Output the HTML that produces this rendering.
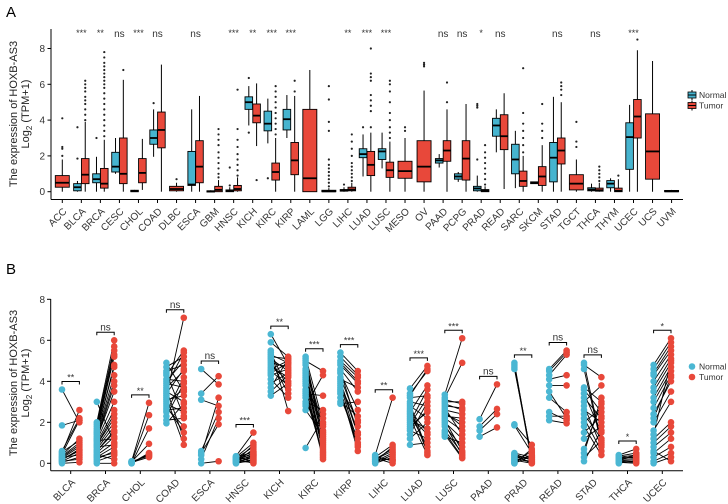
<!DOCTYPE html>
<html><head><meta charset="utf-8">
<style>
html,body{margin:0;padding:0;background:#fff;}
svg{display:block;font-family:"Liberation Sans",Arial,sans-serif;}
</style></head>
<body>
<svg id="chart" width="728" height="504" viewBox="0 0 728 504" xmlns="http://www.w3.org/2000/svg">
<text x="6" y="17" font-size="15">A</text>
<text x="6" y="274" font-size="15">B</text>
<g id="pa"></g>
<g id="pb"></g>
</svg>
<script>
// ---------- Panel A data ----------
const catsA = ["ACC","BLCA","BRCA","CESC","CHOL","COAD","DLBC","ESCA","GBM","HNSC","KICH","KIRC","KIRP","LAML","LGG","LIHC","LUAD","LUSC","MESO","OV","PAAD","PCPG","PRAD","READ","SARC","SKCM","STAD","TGCT","THCA","THYM","UCEC","UCS","UVM"];
// [lowWhisker, q1, median, q3, highWhisker]
const normalStatsA = [null,[0,0.05,0.25,0.45,0.6],[0,0.5,0.7,1.0,1.95],[1.0,1.1,1.4,2.2,3.0],[0,0,0.03,0.08,0.1],[1.95,2.65,3.0,3.45,4.6],null,[0,0.35,0.4,2.25,4.6],[0,0,0.02,0.05,0.08],[0,0,0.05,0.1,0.25],[3.7,4.6,5.0,5.3,5.9],[2.7,3.4,3.8,4.5,5.2],[3.0,3.45,4.05,4.6,5.4],null,null,[0,0.03,0.08,0.12,0.25],[0.85,1.9,2.1,2.4,3.2],[1.3,1.8,2.25,2.4,3.3],null,null,[1.35,1.6,1.75,1.85,2.1],[0.55,0.7,0.85,1.0,1.1],[0,0.05,0.18,0.3,0.9],[2.2,3.1,3.7,4.1,4.6],[0.2,1.0,1.8,2.65,3.4],[0.45,0.45,0.5,0.55,0.55],[0,0.55,1.9,2.75,5.3],null,[0,0.05,0.12,0.22,0.45],[0,0.22,0.45,0.62,0.75],[0,1.25,3.05,3.85,4.85],null,null];
const tumorStatsA = [[0,0.25,0.5,0.9,1.8],[0,0.45,0.95,1.85,3.9],[0,0.2,0.45,1.3,2.9],[0,0.45,1.0,3.0,6.25],[0.1,0.5,1.05,1.85,2.95],[0,2.45,3.45,4.45,7.1],[0,0.05,0.15,0.3,0.5],[0,0.5,1.4,2.85,5.35],[0,0,0.1,0.3,0.65],[0,0.05,0.15,0.35,0.8],[2.55,3.85,4.25,4.9,6.05],[0,0.65,1.1,1.6,3.0],[0,0.95,1.75,2.75,5.35],[0,0,0.75,4.6,6.8],[0,0,0.02,0.08,0.2],[0,0.05,0.12,0.25,0.5],[0,0.9,1.5,2.25,3.3],[0,0.8,1.2,1.65,2.8],[0,0.75,1.15,1.7,3.0],[0,0.55,1.4,2.85,5.65],[0,1.7,2.3,2.85,4.6],[0,0.65,1.85,2.85,4.9],[0,0,0.05,0.12,0.3],[0.15,2.35,3.1,4.3,5.5],[0,0.3,0.6,1.15,2.0],[0,0.35,0.85,1.4,2.6],[0,1.55,2.3,3.0,5.0],[0,0.1,0.45,0.95,1.8],[0,0.03,0.08,0.2,0.5],[0,0,0.05,0.2,0.7],[0,3.0,4.2,5.15,7.9],[0,0.7,2.25,4.35,7.3],[0,0,0.02,0.07,0.1]];
const normalOutA = [[],[1.85,3.6],[3.0],[],[],[4.95],[],[],[],[0.35,1.35],[3.3,6.35],[0.75],[],[],[],[0.4],[3.6],[],[],[],[],[],[1.8,4.7,4.8,4.9],[],[],[],[],[],[],[],[],[],[]];
const tumorOutA = [[2.0,2.4,2.5,4.1],[4.0,4.3,4.6,4.9,5.1,5.3,5.6,5.8,6.0,6.2],[3.1,3.4,3.7,4.0,4.3,4.6,4.9,5.2,5.5,5.8,6.0,6.2,6.4,6.6,6.8,7.0,7.2,7.5,7.8],[6.8],[],[],[0.7],[],[0.8,1.0,1.3,1.6,1.9,2.2,2.6,2.9,3.2,3.5],[0.9,1.2,1.5,1.8,2.1,2.5,2.9,3.5,5.7],[0.65],[3.2,3.5,3.8,4.1,4.4,4.7,5.0,5.3,5.6,5.9],[5.6,6.2],[],[0.3,0.5,0.7,0.9,1.1,1.3,1.5,1.8,3.4,3.9,5.15,5.9],[0.6,0.8,1.0,1.2,1.4,1.6,2.0,2.4,2.8,3.2],[3.6,4.5,4.8,5.1,5.4,6.2,6.4,6.6,8.0],[3.0,3.3,3.6,4.0,4.4,5.0,5.6,6.0,6.2],[3.4,3.6],[7.0,7.1,7.2],[5.0,6.1],[],[0.4,0.7,1.0,1.3,1.6,1.9,2.2,2.6],[],[2.2,2.6,3.0,3.4,3.8,4.4,6.9],[3.0,3.4,3.8,4.9],[5.4,5.7,5.9,6.1],[2.5,2.8,3.9],[0.6,0.8,1.0,1.2,1.4],[0.9],[8.5],[],[]];
const sigA = ["","***","**","ns","***","ns","","ns","","***","**","***","***","","","**","***","***","","","ns","ns","*","ns","","","ns","","ns","","***","",""];
const yTicksA = [0,2,4,6,8];

// ---------- Panel B data ----------
const catsB = ["BLCA","BRCA","CHOL","COAD","ESCA","HNSC","KICH","KIRC","KIRP","LIHC","LUAD","LUSC","PAAD","PRAD","READ","STAD","THCA","UCEC"];
const normalB = [
[3.6,1.85,0.6,0.5,0.4,0.3,0.2,0.1,0.05,0.0,0.35,0.45,0.15,0.25,0.55,0.3,0.1,0.2],
[3.0,2.0,1.9,1.8,1.6,1.5,1.4,1.3,1.2,1.1,1.0,0.9,0.8,0.7,0.6,0.5,0.4,0.3,0.2,0.1,0.0,1.7,1.5,1.2,0.9,0.6,0.3,0.8,1.1,0.4],
[0.1,0.05,0,0.08,0.02,0.06,0.1,0,0.04],
[4.9,4.7,4.5,4.3,4.1,3.9,3.7,3.5,3.3,3.1,2.9,2.7,2.5,2.3,2.1,1.95,3.6,3.2,2.8,4.0,3.4,3.0,2.6,4.4,3.8],
[4.6,3.4,3.1,0.6,0.4,0.2,0,0.5],
[0.35,0.3,0.25,0.2,0.15,0.1,0.05,0,0.3,0.2,0.1,0,0.25,0.15,0.05,0.1,0.2,0.3],
[6.3,5.9,5.5,5.3,5.2,5.1,5.0,4.9,4.8,4.7,4.6,4.5,4.3,4.1,3.9,3.7,3.5,3.3,5.4,4.4],
[5.2,5.0,4.8,4.6,4.4,4.2,4.0,3.8,3.6,3.4,3.2,3.0,2.8,2.6,0.75,4.9,4.1,3.5,2.9,4.5,3.9,3.3,5.1,4.3],
[5.4,5.2,5.0,4.8,4.6,4.4,4.2,4.0,3.8,3.6,3.4,3.2,3.0,2.9,4.9,4.5,3.9,3.5,4.1,3.7],
[0.4,0.3,0.2,0.1,0,0.35,0.25,0.15,0.05,0.2,0.1,0.3],
[3.65,3.4,3.2,3.0,2.8,2.6,2.4,2.2,2.0,1.8,1.6,1.4,1.2,0.9,3.3,2.9,2.5,2.1,1.7,2.7,2.3,1.9],
[3.35,3.2,3.0,2.8,2.6,2.4,2.2,2.0,1.8,1.6,1.4,1.3,3.1,2.7,2.3,1.9,2.5,2.1,2.9,1.5],
[2.15,1.8,1.6,1.3],
[4.9,4.8,4.7,4.6,1.9,1.85,0.5,0.4,0.3,0.2,0.1,0.05,0,0.45,0.35,0.25,0.15,0],
[4.6,4.5,4.3,4.1,3.8,3.5,3.2,2.5,2.3,2.1],
[4.9,4.8,4.6,3.7,3.6,3.4,3.0,2.6,2.4,2.2,2.0,1.8,1.5,1.2,0.7,0.5,0.3,0.1,2.8,3.2],
[0.4,0.35,0.3,0.25,0.2,0.15,0.1,0.05,0,0.3,0.2,0.1],
[4.8,4.6,4.4,4.3,4.0,3.7,3.5,3.2,3.0,2.7,2.4,2.0,1.6,1.2,1.0,0.8,0.5,0.3,0.1,0,0.6,1.4,2.2]];
const tumorB = [
[2.0,2.1,2.2,2.6,1.2,0.9,0.6,0.5,0.3,0.05,1.0,2.1,0.7,0.8,1.1,0.4,0.2,0.65],
[1.0,6.0,5.7,5.5,5.2,4.8,4.3,4.0,3.5,3.0,2.6,2.2,2.0,1.8,1.5,1.3,1.0,0.8,0.6,0.4,0.0,5.3,4.7,3.8,2.4,1.6,0.5,0.9,1.2,0.2],
[2.95,2.35,1.7,0.95,0.5,0.4,0.35,0.45,0.3],
[3.5,5.2,4.8,5.5,4.0,3.7,4.5,3.0,7.1,3.3,2.5,1.8,4.2,3.9,2.2,2.9,1.2,0.9,1.5,5.0,4.6,3.6,2.7,2.3,5.4],
[3.85,4.25,2.8,2.5,3.2,2.2,0.1,1.9],
[1.5,1.0,0.8,0.6,0.5,0.4,0.3,0.2,0.1,0,0.05,0.15,0.25,0.35,0.7,0.9,0.45,0.55],
[4.8,5.2,2.55,4.9,5.1,4.5,3.4,4.7,4.0,4.2,5.0,3.8,4.6,3.2,4.4,5.1,4.3,3.9,3.6,4.9],
[2.0,4.5,1.8,1.5,1.2,0.9,0.6,0.3,0.2,3.3,1.0,2.6,4.3,1.4,2.2,1.1,0.7,2.4,1.6,0.5,1.9,0.4,1.3,0.8],
[4.5,4.3,4.2,3.9,3.5,2.6,2.0,1.5,1.0,0.6,0.8,1.2,2.3,3.0,4.0,1.8,1.4,0.9,3.7,2.1],
[3.2,0.9,0.7,0.5,0.3,0.1,0,0.2,0.4,0.6,0.8,0.15],
[4.75,4.5,3.3,2.8,2.2,1.5,0.8,0.4,3.6,2.5,1.2,3.0,2.0,1.0,4.6,0.6,3.8,1.7,2.6,0.5,1.4,3.2],
[6.1,4.9,3.0,2.7,2.4,2.0,1.6,1.2,0.8,0.5,0.25,1.0,2.9,1.4,2.2,0.4,1.8,0.6,2.6,0.3],
[3.85,2.65,2.4,1.75],
[0.1,0.2,0.05,0.3,0.9,0.5,0.3,0,0.2,0.1,0.4,0.6,0.7,0.15,0.25,0.05,0,0.35],
[5.5,5.4,5.3,4.3,3.8,2.2,2.5,2.1,2.3,1.95],
[1.0,4.2,0.9,3.0,2.5,1.5,3.8,2.0,1.2,0.6,2.7,0.4,2.3,1.8,2.9,3.2,1.1,1.6,0.8,2.2],
[0.7,0.5,0.4,0.3,0.2,0.1,0.05,0,0.15,0.25,0.35,0.45],
[6.1,5.9,5.7,5.5,5.3,5.1,4.9,4.7,4.5,4.3,4.0,3.5,3.0,2.0,1.8,1.5,1.2,0.8,0.5,0.3,0.1,5.0,4.2]];
const sigB = ["**","ns","**","ns","ns","***","**","***","***","**","***","***","ns","**","ns","ns","*","*"];
const yTicksB = [0,2,4,6,8];

const NS = "http://www.w3.org/2000/svg";
const NCOL = "#46B4CF", TCOL = "#E8483A";
function mk(parent, tag, attrs, text){
  const e = document.createElementNS(NS, tag);
  for (const k in attrs) e.setAttribute(k, attrs[k]);
  if (text !== undefined) e.textContent = text;
  parent.appendChild(e);
  return e;
}

// ---------- Panel A ----------
const pa = document.getElementById("pa");
const xA = i => 62.3 + 19.04 * i;
const yA = v => 191.7 - 17.9 * v;
const axA = mk(pa, "line", {x1:51, y1:29, x2:51, y2:199.5, stroke:"#000", "stroke-width":1});


const bxA = mk(pa, "line", {x1:51, y1:199.5, x2:683, y2:199.5, stroke:"#000", "stroke-width":1});


yTicksA.forEach(t => {
  mk(pa, "line", {x1:47.5, y1:yA(t), x2:51, y2:yA(t), stroke:"#000"});
  const lb = mk(pa, "text", {x:45, y:yA(t)+3.5, "font-size":10, "text-anchor":"end", fill:"#333"}, String(t));
  
  
});
function boxA(cx, w, s, col, outs, nm){
  const g = mk(pa, "g", {});
  
  
  mk(g, "line", {x1:cx, y1:yA(s[0]), x2:cx, y2:yA(s[4]), stroke:"#000", "stroke-width":1});
  const h = Math.max(yA(s[1]) - yA(s[3]), 1.2);
  mk(g, "rect", {x:cx-w/2, y:yA(s[3]), width:w, height:h, fill:col, stroke:"#000", "stroke-width":0.9});
  mk(g, "line", {x1:cx-w/2, y1:yA(s[2]), x2:cx+w/2, y2:yA(s[2]), stroke:"#000", "stroke-width":1.8});
  outs.forEach(o => mk(g, "circle", {cx:cx, cy:yA(o), r:1.1, fill:"#222"}));
}
catsA.forEach((c, i) => {
  const cx = xA(i);
  const n = normalStatsA[i], t = tumorStatsA[i];
  if (n && t){
    boxA(cx-3.9, 7.6, n, NCOL, normalOutA[i], "box-normal-"+c.toLowerCase());
    boxA(cx+3.9, 7.6, t, TCOL, tumorOutA[i], "box-tumor-"+c.toLowerCase());
  } else if (t){
    boxA(cx, 14, t, TCOL, tumorOutA[i], "box-tumor-"+c.toLowerCase());
  }
  mk(pa, "line", {x1:cx, y1:199.5, x2:cx, y2:203, stroke:"#000"});
  const lx = cx+5, ly = 212;
  const lb = mk(pa, "text", {x:lx, y:ly, "font-size":10, "text-anchor":"end", fill:"#333", transform:`rotate(-45 ${lx} ${ly})`}, c);
  
  
  if (sigA[i]){
    const s = mk(pa, "text", {x:cx, y: sigA[i]==="ns" ? 37 : 36, "font-size": sigA[i]==="ns" ? 10 : 9, "text-anchor":"middle", fill:"#333"}, sigA[i]);
    
    
  }
});
const ytA = mk(pa, "text", {x:17, y:114, "font-size":11, "text-anchor":"middle", fill:"#222", transform:"rotate(-90 17 114)"}, "The expression of HOXB-AS3");


const yt2A = mk(pa, "text", {x:29, y:114, "font-size":11, "text-anchor":"middle", fill:"#222", transform:"rotate(-90 29 114)"});


yt2A.innerHTML = 'Log<tspan font-size="8" dy="3">2</tspan><tspan dy="-3"> (TPM+1)</tspan>';
// legend A
[["Normal",NCOL,95],["Tumor",TCOL,105.5]].forEach(([lab,col,yy]) => {
  const g = mk(pa, "g", {});
  
  
  mk(g, "line", {x1:692, y1:yy-5, x2:692, y2:yy+5, stroke:"#000"});
  mk(g, "rect", {x:688, y:yy-3, width:8, height:6, fill:col, stroke:"#000", "stroke-width":0.8});
  mk(g, "line", {x1:688, y1:yy, x2:696, y2:yy, stroke:"#000"});
  mk(g, "text", {x:699, y:yy+3, "font-size":8.5, fill:"#333"}, lab);
});

// ---------- Panel B ----------
const pb = document.getElementById("pb");
const xB = i => 70.7 + 34.8 * i;
const yB = v => 463.3 - 20.5 * v;
const axB = mk(pb, "line", {x1:50.7, y1:299, x2:50.7, y2:470.7, stroke:"#000"});


const bxB = mk(pb, "line", {x1:50.7, y1:470.7, x2:683, y2:470.7, stroke:"#000"});


yTicksB.forEach(t => {
  mk(pb, "line", {x1:47, y1:yB(t), x2:50.7, y2:yB(t), stroke:"#000"});
  const lb = mk(pb, "text", {x:45, y:yB(t)+3.5, "font-size":10, "text-anchor":"end", fill:"#333"}, String(t));
  
  
});
catsB.forEach((c, i) => {
  const cx = xB(i), nx = cx-8.7, tx = cx+8.7;
  const g = mk(pb, "g", {});
  
  
  const nv = normalB[i], tv = tumorB[i];
  nv.forEach((v, k) => mk(g, "line", {x1:nx, y1:yB(v), x2:tx, y2:yB(tv[k]), stroke:"#000", "stroke-width":0.9}));
  nv.forEach(v => mk(g, "circle", {cx:nx, cy:yB(v), r:3.3, fill:"#4BB7D3"}));
  tv.forEach(v => mk(g, "circle", {cx:tx, cy:yB(v), r:3.3, fill:TCOL}));
  const mx = Math.max(...nv, ...tv);
  const by = yB(mx) - 8;
  const br = mk(pb, "path", {d:`M${nx},${by+3}V${by}H${tx}V${by+3}`, fill:"none", stroke:"#000", "stroke-width":1});
  
  
  const s = mk(pb, "text", {x:cx, y: sigB[i]==="ns" ? by-2 : by-1, "font-size": sigB[i]==="ns" ? 10 : 9, "text-anchor":"middle", fill:"#333"}, sigB[i]);
  
  
  mk(pb, "line", {x1:cx, y1:470.7, x2:cx, y2:474, stroke:"#000"});
  const lx = cx+5, ly = 483;
  const lb = mk(pb, "text", {x:lx, y:ly, "font-size":10, "text-anchor":"end", fill:"#333", transform:`rotate(-45 ${lx} ${ly})`}, c);
  
  
});
const ytB = mk(pb, "text", {x:17, y:383, "font-size":11, "text-anchor":"middle", fill:"#222", transform:"rotate(-90 17 383)"}, "The expression of HOXB-AS3");


const yt2B = mk(pb, "text", {x:29, y:383, "font-size":11, "text-anchor":"middle", fill:"#222", transform:"rotate(-90 29 383)"});


yt2B.innerHTML = 'Log<tspan font-size="8" dy="3">2</tspan><tspan dy="-3"> (TPM+1)</tspan>';
[["Normal","#4BB7D3",366.5],["Tumor",TCOL,377]].forEach(([lab,col,yy]) => {
  const g = mk(pb, "g", {});
  
  
  mk(g, "circle", {cx:692, cy:yy, r:3.3, fill:col});
  mk(g, "text", {x:699, y:yy+3, "font-size":8.5, fill:"#333"}, lab);
});
</script>
</body></html>
